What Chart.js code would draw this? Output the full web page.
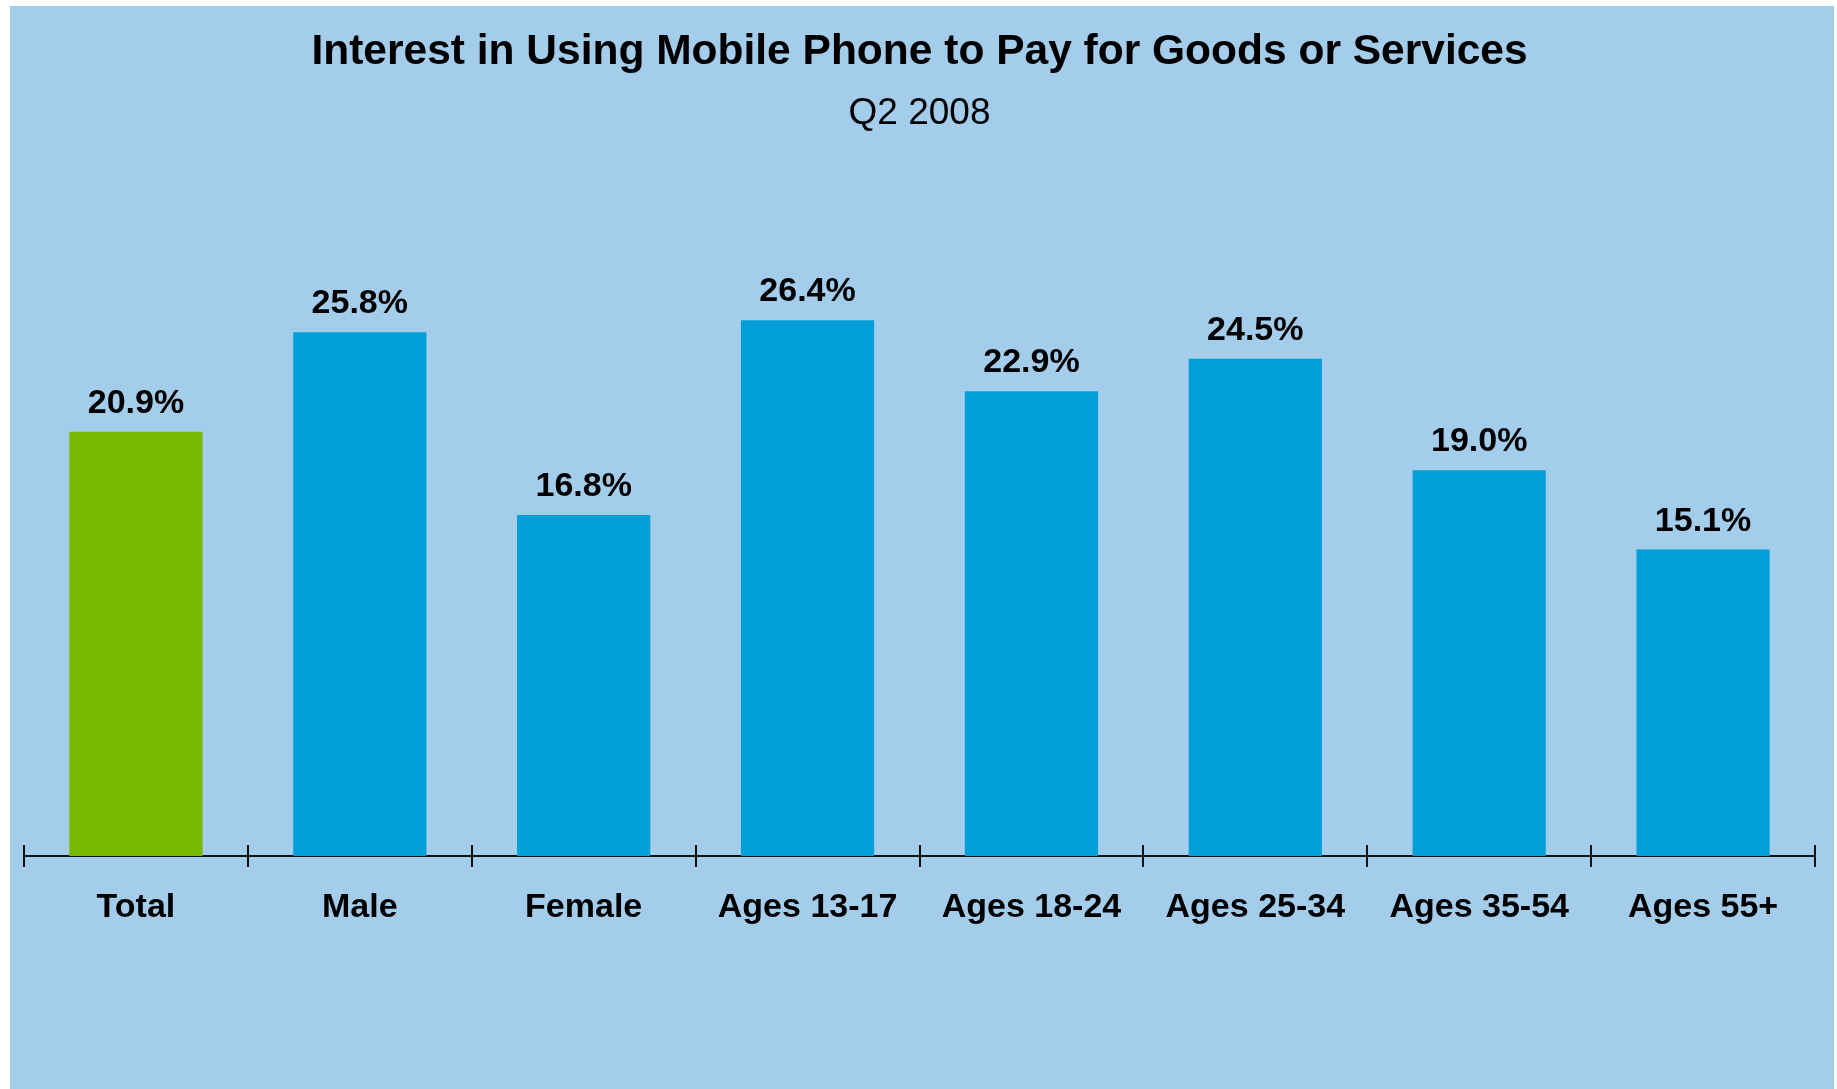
<!DOCTYPE html>
<html>
<head>
<meta charset="utf-8">
<title>Interest in Using Mobile Phone to Pay</title>
<script src="https://cdn.jsdelivr.net/npm/chart.js@4.4.0/dist/chart.umd.min.js"></script>
<style>
  html, body { margin: 0; padding: 0; background: #ffffff; }
  #wrap {
    position: absolute;
    left: 10px;
    top: 6px;
    width: 1824px;
    height: 1083px;
    background: #A3CDEB;
  }
</style>
</head>
<body>
<div id="wrap"><canvas id="chart"></canvas></div>
<script>
// Chart data
const categories = ['Total', 'Male', 'Female', 'Ages 13-17', 'Ages 18-24', 'Ages 25-34', 'Ages 35-54', 'Ages 55+'];
const interestPct = [20.9, 25.8, 16.8, 26.4, 22.9, 24.5, 19.0, 15.1];
const barColors = ['#77BA00', '#009FDA', '#009FDA', '#009FDA', '#009FDA', '#009FDA', '#009FDA', '#009FDA'];

const fontFamily = '"Liberation Sans", Arial, Helvetica, sans-serif';

// Value labels above each bar
const valueLabels = {
  id: 'valueLabels',
  afterDatasetsDraw(chart) {
    const ctx = chart.ctx;
    const meta = chart.getDatasetMeta(0);
    ctx.save();
    ctx.font = 'bold 34px ' + fontFamily;
    ctx.fillStyle = '#000000';
    ctx.textAlign = 'center';
    ctx.textBaseline = 'alphabetic';
    meta.data.forEach((bar, i) => {
      ctx.fillText(interestPct[i].toFixed(1) + '%', bar.x, bar.y - 19);
    });
    ctx.restore();
  }
};

// Short tick marks across the axis at category boundaries
const boundaryTicks = {
  id: 'boundaryTicks',
  afterDraw(chart) {
    const ctx = chart.ctx;
    const xScale = chart.scales.x;
    const y = chart.chartArea.bottom;
    ctx.save();
    ctx.strokeStyle = '#111111';
    ctx.lineWidth = 2;
    for (let i = 0; i <= categories.length; i++) {
      const x = Math.round(xScale.getPixelForValue(i - 0.5));
      ctx.beginPath();
      ctx.moveTo(x, y - 11);
      ctx.lineTo(x, y + 11);
      ctx.stroke();
    }
    ctx.restore();
  }
};

new Chart(document.getElementById('chart'), {
  type: 'bar',
  data: {
    labels: categories,
    datasets: [{
      data: interestPct,
      backgroundColor: barColors,
      borderWidth: 0,
      categoryPercentage: 1.0,
      barPercentage: 0.595
    }]
  },
  options: {
    responsive: true,
    maintainAspectRatio: false,
    animation: false,
    layout: {
      padding: { left: 14, right: 19, top: 0, bottom: 0 }
    },
    plugins: {
      legend: { display: false },
      tooltip: { enabled: false },
      title: {
        display: true,
        text: 'Interest in Using Mobile Phone to Pay for Goods or Services',
        color: '#000000',
        font: { family: fontFamily, size: 42.5, weight: 'bold', lineHeight: 1.2 },
        padding: { top: 21, bottom: 0 }
      },
      subtitle: {
        display: true,
        text: 'Q2 2008',
        color: '#000000',
        font: { family: fontFamily, size: 37, weight: 'normal', lineHeight: 1.2 },
        padding: { top: 14, bottom: 110.7 }
      }
    },
    scales: {
      x: {
        grid: { display: false, drawTicks: false },
        border: { display: true, color: '#111111', width: 2 },
        ticks: {
          color: '#000000',
          padding: 31,
          font: { family: fontFamily, size: 34, weight: 'bold' }
        },
        afterFit(scale) {
          scale.height = 233;
        }
      },
      y: {
        display: false,
        min: 0,
        max: 30
      }
    }
  },
  plugins: [valueLabels, boundaryTicks]
});
</script>
</body>
</html>
